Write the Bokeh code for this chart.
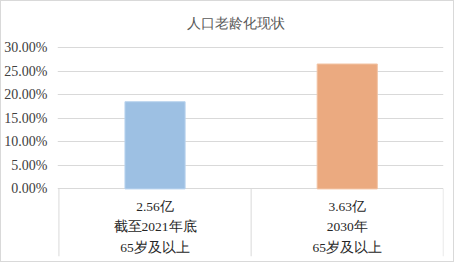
from bokeh.plotting import figure
from bokeh.models import Range1d, FixedTicker, NumeralTickFormatter, ColumnDataSource
from bokeh.core.properties import value
from bokeh.embed import file_html
from bokeh.resources import INLINE

title_text = "人口老龄化现状"
line1 = ["2.56亿", "3.63亿"]
line2 = ["截至2021年底", "2030年"]
line3 = ["65岁及以上", "65岁及以上"]
values = [0.185, 0.265]
colors = ["#9DC0E3", "#EBAA80"]
edge_colors = ["#B9D3EE", "#F2C3A3"]
y_ticks = [0.0, 0.05, 0.10, 0.15, 0.20, 0.25, 0.30]

xs = [i + 0.5 for i in range(len(values))]
bounds = list(range(len(values) + 1))

SERIF = "Liberation Serif"
Y_BOTTOM = -0.1434

p = figure(width=454, height=262, output_backend="svg", toolbar_location=None,
           x_range=Range1d(-0.00746, 2.0008), y_range=Range1d(Y_BOTTOM, 0.3976),
           x_axis_location=None, min_border_left=51, min_border_right=12,
           min_border_top=0, min_border_bottom=7)
p.styles = {"border": "1px solid #D9D9D9"}
p.outline_line_color = None
p.background_fill_color = "white"
p.border_fill_color = "white"

p.yaxis.ticker = FixedTicker(ticks=y_ticks)
p.yaxis.formatter = NumeralTickFormatter(format="0.00%")
p.yaxis.axis_line_color = None
p.yaxis.major_tick_line_color = None
p.yaxis.minor_tick_line_color = None
p.yaxis.major_label_standoff = 4
p.yaxis.major_label_text_font = SERIF
p.yaxis.major_label_text_font_size = "14px"
p.yaxis.major_label_text_color = "#404040"

p.ygrid.ticker = FixedTicker(ticks=y_ticks)
p.ygrid.grid_line_color = "#D9D9D9"
p.ygrid.grid_line_width = 1
p.xgrid.grid_line_color = None

src = ColumnDataSource(dict(x=xs, top=values, color=colors, edge=edge_colors))
p.vbar(x="x", top="top", bottom=0, width=0.313, fill_color="color", line_color="edge",
       line_width=1, source=src)

# table vertical lines under the category axis
p.segment(x0=bounds, y0=[0] * len(bounds), x1=bounds, y1=[Y_BOTTOM] * len(bounds),
          line_color="#D9D9D9", line_width=1)

for lines, yy in ((line1, -0.0365), (line2, -0.0804), (line3, -0.1243)):
    p.text(x=xs, y=[yy] * len(xs), text=lines, text_align="center", text_baseline="middle",
           text_font=value(SERIF), text_font_size="13.5px", text_color="#262626")

p.text(x=[0.919], y=[0.35], text=[title_text], text_align="center", text_baseline="middle",
       text_font=value(SERIF), text_font_size="14px", text_color="#595959")

open("out.html", "w").write(file_html(p, INLINE))
